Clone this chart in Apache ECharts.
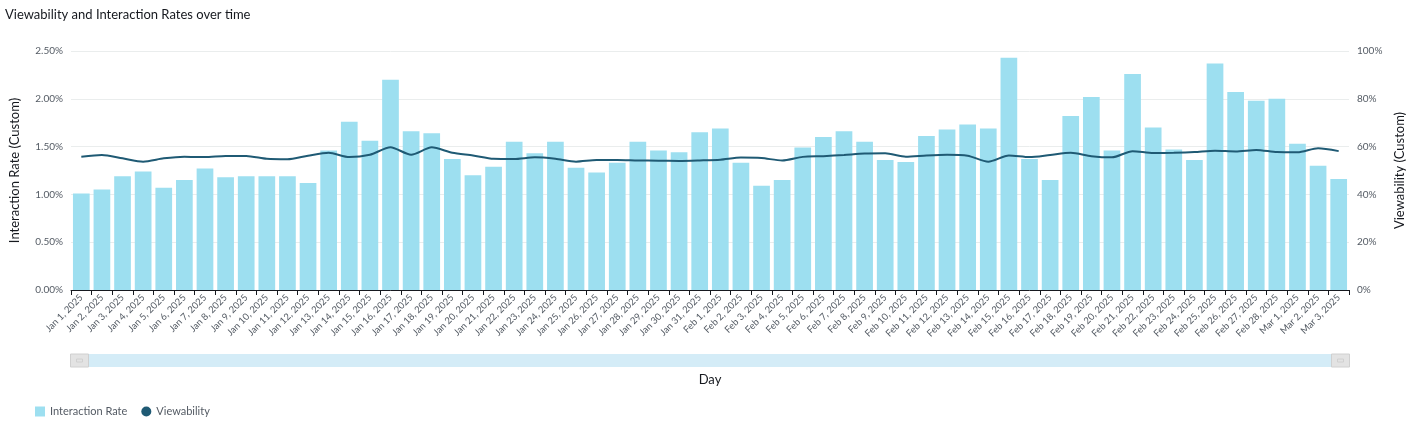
<!DOCTYPE html>
<html>
<head>
<meta charset="utf-8">
<script src="https://cdn.jsdelivr.net/npm/echarts@6/dist/echarts.min.js"></script>
<style>
html,body{margin:0;padding:0;background:#fff;}
#chart{width:1415px;height:428px;}
</style>
</head>
<body>
<div id="chart"></div>
<script>
var categories = [
  "Jan 1, 2025","Jan 2, 2025","Jan 3, 2025","Jan 4, 2025","Jan 5, 2025","Jan 6, 2025","Jan 7, 2025","Jan 8, 2025","Jan 9, 2025","Jan 10, 2025",
  "Jan 11, 2025","Jan 12, 2025","Jan 13, 2025","Jan 14, 2025","Jan 15, 2025","Jan 16, 2025","Jan 17, 2025","Jan 18, 2025","Jan 19, 2025","Jan 20, 2025",
  "Jan 21, 2025","Jan 22, 2025","Jan 23, 2025","Jan 24, 2025","Jan 25, 2025","Jan 26, 2025","Jan 27, 2025","Jan 28, 2025","Jan 29, 2025","Jan 30, 2025",
  "Jan 31, 2025","Feb 1, 2025","Feb 2, 2025","Feb 3, 2025","Feb 4, 2025","Feb 5, 2025","Feb 6, 2025","Feb 7, 2025","Feb 8, 2025","Feb 9, 2025",
  "Feb 10, 2025","Feb 11, 2025","Feb 12, 2025","Feb 13, 2025","Feb 14, 2025","Feb 15, 2025","Feb 16, 2025","Feb 17, 2025","Feb 18, 2025","Feb 19, 2025",
  "Feb 20, 2025","Feb 21, 2025","Feb 22, 2025","Feb 23, 2025","Feb 24, 2025","Feb 25, 2025","Feb 26, 2025","Feb 27, 2025","Feb 28, 2025","Mar 1, 2025",
  "Mar 2, 2025","Mar 3, 2025"
];
// Interaction Rate, in percent
var interactionRate = [
  1.01,1.05,1.19,1.24,1.07,1.15,1.27,1.18,1.19,1.19,
  1.19,1.12,1.46,1.76,1.56,2.20,1.66,1.64,1.37,1.20,
  1.29,1.55,1.43,1.55,1.28,1.23,1.33,1.55,1.46,1.44,
  1.65,1.69,1.33,1.09,1.15,1.49,1.60,1.66,1.55,1.36,
  1.34,1.61,1.68,1.73,1.69,2.43,1.37,1.15,1.82,2.02,
  1.46,2.26,1.70,1.47,1.36,2.37,2.07,1.98,2.00,1.53,
  1.30,1.16
];
// Viewability, in percent
var viewability = [
  55.8,56.5,55.1,53.7,55.1,55.8,55.6,56.1,56.1,54.9,
  54.7,56.2,57.4,55.6,56.6,59.7,56.6,59.7,57.4,56.3,
  54.9,54.8,55.5,54.9,53.7,54.4,54.4,54.2,54.1,54.0,
  54.2,54.5,55.4,55.2,54.2,55.7,56.0,56.5,57.1,57.2,
  55.8,56.3,56.6,56.2,53.7,56.3,55.6,56.5,57.4,56.0,
  55.5,58.1,57.3,57.4,57.7,58.3,58.0,58.6,57.7,57.6,
  59.3,58.1
];
var leftTicks = {min: 0, max: 2.5, interval: 0.5};
var rightTicks = {min: 0, max: 100, interval: 20};

var FONT = 'Lato, "Noto Sans", sans-serif';
var chart = echarts.init(document.getElementById('chart'), null, {renderer: 'canvas'});
chart.setOption({
  animation: false,
  textStyle: {fontFamily: FONT},
  title: {
    text: 'Viewability and Interaction Rates over time',
    left: 0, top: 3,
    textStyle: {fontSize: 13, fontWeight: 'normal', color: '#16191f', fontFamily: FONT}
  },
  legend: {
    left: 30, top: 401,
    itemWidth: 10, itemHeight: 10, itemGap: 14,
    textStyle: {color: '#545b64', fontSize: 11, fontFamily: FONT},
    data: [
      {name: 'Interaction Rate', icon: 'rect'},
      {name: 'Viewability', icon: 'circle'}
    ]
  },
  grid: {left: 68, right: 66, top: 51, bottom: 138, containLabel: false},
  dataZoom: [{
    type: 'slider',
    xAxisIndex: 0,
    start: 0, end: 100,
    left: 77, right: 75,
    top: 354, height: 13,
    showDataShadow: false,
    showDetail: false,
    brushSelect: false,
    moveHandleSize: 0,
    borderColor: 'transparent',
    backgroundColor: '#ffffff',
    fillerColor: '#d4ecf7',
    handleIcon: 'path://M0,0 L18,0 L18,13 L0,13 Z M6,5 L12,5 L12,8 L6,8 Z',
    handleSize: 18,
    handleStyle: {color: '#e3e3e3', borderColor: '#d0d0d0', borderWidth: 1},
    emphasis: {handleStyle: {color: '#e3e3e3', borderColor: '#d0d0d0'}}
  }],
  xAxis: {
    type: 'category',
    data: categories,
    name: 'Day',
    nameLocation: 'middle',
    nameGap: 83,
    nameTextStyle: {fontSize: 13, color: '#16191f'},
    axisLine: {show: true, lineStyle: {color: '#16191f', width: 1}},
    axisTick: {show: true, alignWithLabel: false, length: 5, lineStyle: {color: '#16191f'}},
    axisLabel: {rotate: 45, fontSize: 9.5, color: '#545b64', interval: 0, margin: 6},
    splitLine: {show: false}
  },
  yAxis: [{
    type: 'value',
    min: leftTicks.min, max: leftTicks.max, interval: leftTicks.interval,
    name: 'Interaction Rate (Custom)',
    nameLocation: 'middle', nameGap: 50, nameRotate: 90,
    nameTextStyle: {fontSize: 13, color: '#16191f'},
    axisLine: {show: false}, axisTick: {show: false},
    axisLabel: {fontSize: 10, color: '#545b64', formatter: function (v) { return v.toFixed(2) + '%'; }},
    splitLine: {lineStyle: {color: '#eaeded', width: 1}}
  }, {
    type: 'value',
    min: rightTicks.min, max: rightTicks.max, interval: rightTicks.interval,
    name: 'Viewability (Custom)',
    nameLocation: 'middle', nameGap: 44, nameRotate: 90,
    nameTextStyle: {fontSize: 13, color: '#16191f'},
    axisLine: {show: false}, axisTick: {show: false},
    axisLabel: {fontSize: 10, color: '#545b64', formatter: function (v) { return v + '%'; }},
    splitLine: {show: false}
  }],
  series: [{
    name: 'Interaction Rate',
    type: 'bar',
    yAxisIndex: 0,
    data: interactionRate,
    barCategoryGap: '19%',
    itemStyle: {color: '#9ddff0'}
  }, {
    name: 'Viewability',
    type: 'line',
    yAxisIndex: 1,
    data: viewability,
    smooth: 0.25,
    showSymbol: false,
    symbol: 'circle',
    lineStyle: {color: '#1f5a74', width: 2},
    itemStyle: {color: '#1f5a74'}
  }]
});
</script>
</body>
</html>
